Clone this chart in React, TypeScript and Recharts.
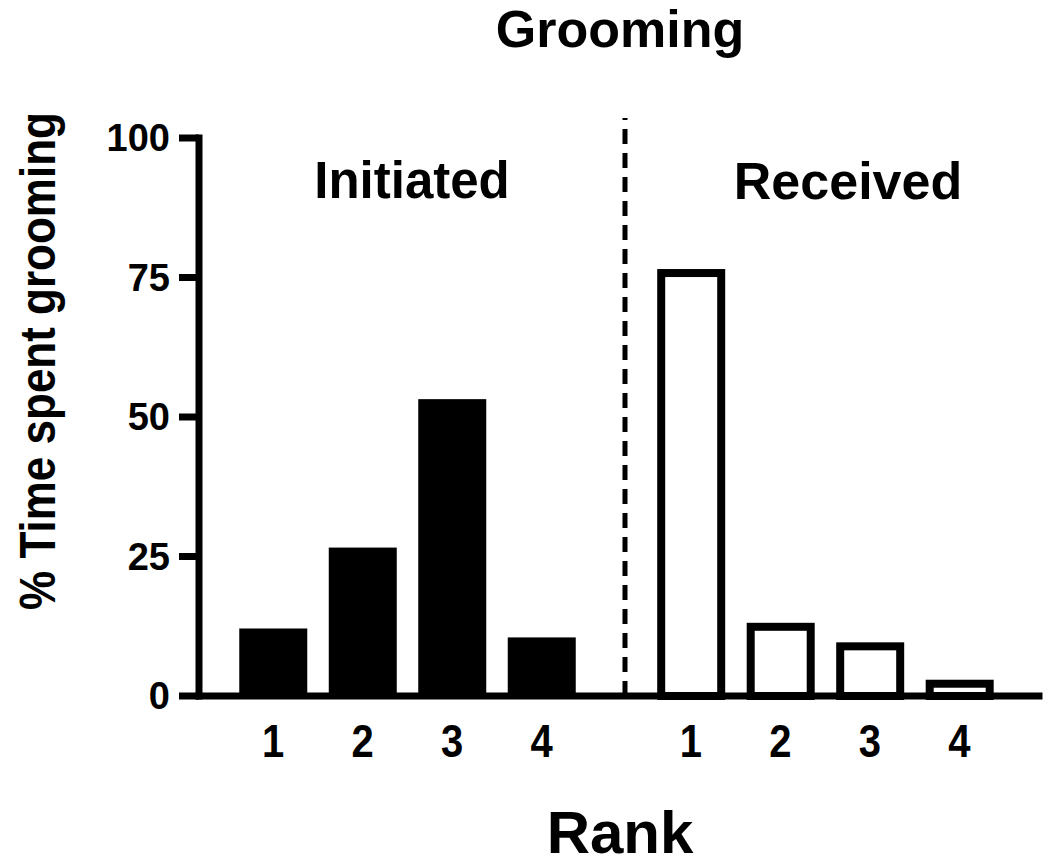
import { Bar, BarChart, ReferenceLine, XAxis, YAxis, Label } from "recharts";

const ranks = ["1", "2", "3", "4"];
const initiated = [12.1, 26.6, 53.2, 10.5];
const received = [75.8, 12.4, 8.9, 2.2];
const yTicks = [0, 25, 50, 75, 100];

// x layout: the received group is shifted right, with a gap for the divider
const GROUP_SHIFT = 4.67;
const DIVIDER_X = 4.933;
const FONT = "'Liberation Sans', Arial, Helvetica, sans-serif";

const rows = [
  ...initiated.map((value, i) => ({ pos: i + 1, rank: ranks[i], value, group: "Initiated" })),
  ...received.map((value, i) => ({ pos: i + 1 + GROUP_SHIFT, rank: ranks[i], value, group: "Received" })),
];

const BarShape = (props: any) => {
  const { x, y, width, height, payload } = props;
  if (payload.group === "Received") {
    return (
      <rect x={x + 4} y={y} width={width - 8} height={height} fill="#fff" stroke="#000" strokeWidth={8} />
    );
  }
  return <rect x={x} y={y} width={width} height={height} fill="#000" />;
};

// the original's lettering is a bit taller than Arial, so stretch it vertically
const XTick = (props: any) => {
  const { x, y, index } = props;
  return (
    <text
      transform={`translate(${x},${y + 30}) scale(1,1.15)`}
      textAnchor="middle"
      fontSize={40}
      fontWeight="bold"
      fontFamily={FONT}
      fill="#000"
    >
      {rows[index]?.rank}
    </text>
  );
};

const App = () => {
  return (
    <div style={{ position: "absolute", left: 0, top: 0, width: 1050, height: 867, background: "#fff" }}>
      <BarChart
        width={1050}
        height={867}
        data={rows}
        margin={{ top: 138, right: 11, left: 0, bottom: 0 }}
        style={{ fontFamily: FONT, fontWeight: "bold" }}
      >
        <XAxis
          dataKey="pos"
          type="number"
          domain={[0.173, 9.559]}
          ticks={rows.map((r) => r.pos)}
          interval={0}
          height={171}
          tickLine={false}
          tickSize={0}
          tickMargin={31}
          axisLine={{ stroke: "#000", strokeWidth: 7, strokeLinecap: "square" }}
          tick={<XTick />}
        >
          <Label
            content={() => (
              <text x={620} y={853} textAnchor="middle" fontSize={60} fontWeight="bold" fontFamily={FONT} fill="#000">
                Rank
              </text>
            )}
          />
        </XAxis>
        <YAxis
          type="number"
          domain={[0, 100]}
          ticks={yTicks}
          interval={0}
          width={199}
          tickSize={20}
          tickMargin={9}
          tickLine={{ stroke: "#000", strokeWidth: 7 }}
          axisLine={{ stroke: "#000", strokeWidth: 7, strokeLinecap: "square" }}
          tick={{ fill: "#000", fontSize: 38, fontWeight: "bold", fontFamily: FONT }}
        >
          <Label
            content={() => (
              <text
                transform="translate(55,361) rotate(-90) scale(1,1.15)"
                textAnchor="middle"
                fontSize={44}
                fontWeight="bold"
                fontFamily={FONT}
                fill="#000"
              >
                % Time spent grooming
              </text>
            )}
          />
        </YAxis>
        <ReferenceLine
          segment={[
            { x: DIVIDER_X, y: 0 },
            { x: DIVIDER_X, y: 103.6 },
          ]}
          ifOverflow="visible"
          stroke="#000"
          strokeWidth={5}
          strokeDasharray="15 9"
        />
        <Bar dataKey="value" barSize={68} shape={BarShape} isAnimationActive={false} />
        <text x={620} y={47} textAnchor="middle" fontSize={52} fontWeight="bold" fontFamily={FONT} fill="#000">
          Grooming
        </text>
        <text x={412} y={198} textAnchor="middle" fontSize={51} fontWeight="bold" fontFamily={FONT} fill="#000">
          Initiated
        </text>
        <text x={848} y={199} textAnchor="middle" fontSize={52} fontWeight="bold" fontFamily={FONT} fill="#000">
          Received
        </text>
      </BarChart>
    </div>
  );
};

export default App;
